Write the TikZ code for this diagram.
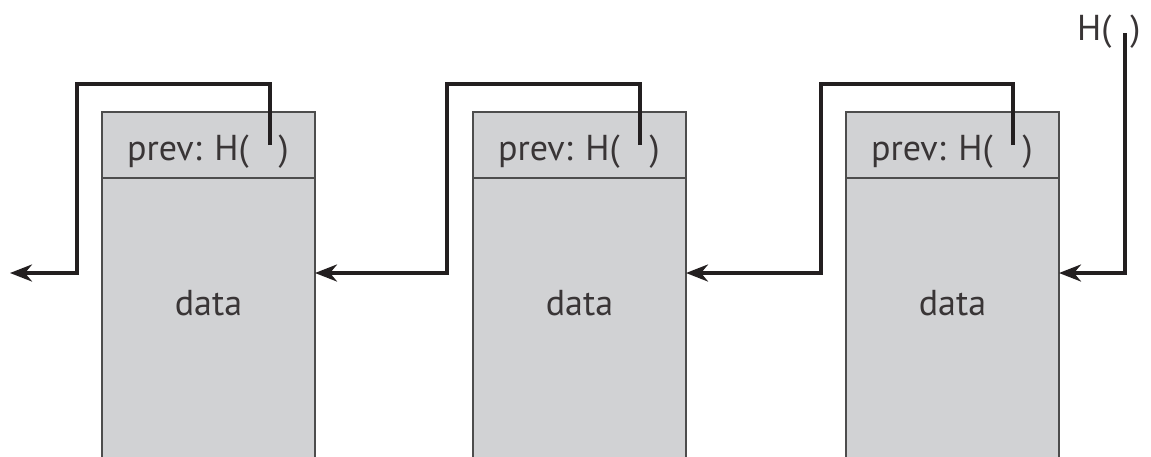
\documentclass[tikz,border=0pt]{standalone}
\usepackage{fontspec}
\setmainfont{PT Sans}
\usetikzlibrary{arrows.meta}
\definecolor{blkfill}{HTML}{D1D2D4}
\definecolor{blkline}{HTML}{4D4D4D}
\definecolor{ink}{HTML}{231F20}
\begin{document}
\begin{tikzpicture}[x=1pt,y=-1pt,
  blk/.style={draw=blkline, fill=blkfill, line width=1.3pt, minimum width=213pt, inner sep=0pt, outer sep=0pt, anchor=north west},
  hdr/.style={blk, minimum height=66pt},
  bodybox/.style={blk, minimum height=300pt},
  lbl/.style={text=ink!90, font=\fontsize{36}{36}\selectfont, inner sep=0pt},
  link/.style={draw=ink, line width=3.6pt},
  arr/.style={link, -{Stealth[length=22pt,width=17pt,inset=7pt]}}]
\useasboundingbox (0,0) rectangle (1151,456);
% blocks
\node[hdr] (h1) at (102,112) {};
\node[bodybox] (b1) at (h1.south west) {};
\node[hdr] (h2) at (473,112) {};
\node[bodybox] (b2) at (h2.south west) {};
\node[hdr] (h3) at (846,112) {};
\node[bodybox] (b3) at (h3.south west) {};
% texts
\foreach \i in {1,2,3}{
  \node[lbl, anchor=base west] (p\i) at ([xshift=25pt,yshift=-48pt]h\i.north west) {prev: H(\hspace{30pt})};
  \node[lbl] (d\i) at ([yshift=-125pt]h\i.south) {data};
}
\node[lbl, anchor=base west] (top) at (1077,40) {H(\hspace{19pt})};
% connector coordinates
\coordinate (s1) at (270,145);
\coordinate (s2) at (640,145);
\coordinate (s3) at (1013,145);
\coordinate (s4) at (1125,33);
\coordinate (c1) at (77,84);
\coordinate (c2) at (447,84);
\coordinate (c3) at (821,84);
\coordinate (e0) at (10,273);
\coordinate (j1) at (77,273);
\coordinate (j2) at (447,273);
\coordinate (j3) at (821,273);
\coordinate (j4) at (1125,273);
% connectors
\draw[arr] (s1) |- (c1) -- (j1) -- (e0);
\draw[arr] (s2) |- (c2) -- (j2) -- (b1.east |- j2);
\draw[arr] (s3) |- (c3) -- (j3) -- (b2.east |- j3);
\draw[arr] (s4) -- (j4) -- (b3.east |- j4);
\end{tikzpicture}
\end{document}
